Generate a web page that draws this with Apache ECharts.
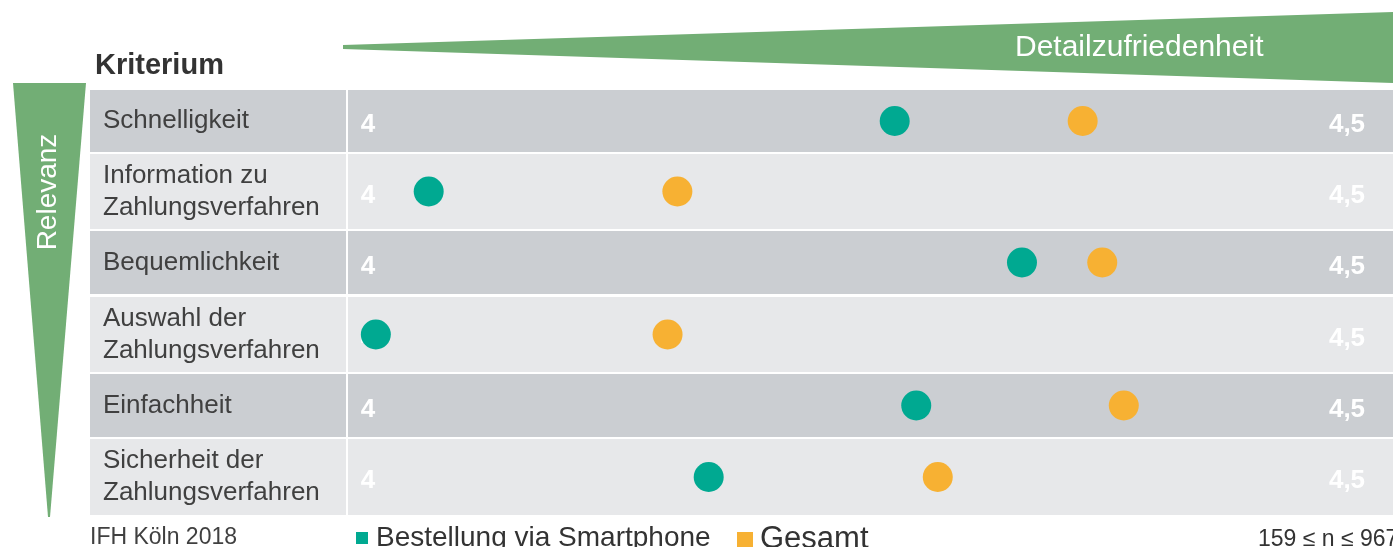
<!DOCTYPE html>
<html>
<head>
<meta charset="utf-8">
<script src="https://cdn.jsdelivr.net/npm/echarts@6/dist/echarts.min.js"></script>
<style>
  html, body { margin: 0; padding: 0; background: #fff; }
  #chart { width: 1393px; height: 547px; }
</style>
</head>
<body>
<div id="chart"></div>
<script>
// Kriterien (von oben nach unten nach Relevanz)
const criteria = [
  'Schnelligkeit',
  'Information zu\nZahlungsverfahren',
  'Bequemlichkeit',
  'Auswahl der\nZahlungsverfahren',
  'Einfachheit',
  'Sicherheit der\nZahlungsverfahren'
];
// Detailzufriedenheit je Gruppe
const smartphone = [4.269, 4.031, 4.334, 4.004, 4.280, 4.174];
const gesamt     = [4.365, 4.158, 4.375, 4.153, 4.386, 4.291];
const seriesNames = ['Bestellung via Smartphone', 'Gesamt'];
// Skalenbeschriftung
const scaleTicks = [4, 4.5];

// Layout der Zeilen
const rowTop = [90, 154, 231, 297, 374, 439];
const rowHeight = [62, 75, 63, 75, 63, 76];
const rowColors = ['#cbced2', '#e7e8ea'];
const font = '"Liberation Sans", Arial, sans-serif';

const chart = echarts.init(document.getElementById('chart'));

let grids = [], xAxes = [], yAxes = [], series = [], graphics = [];

// Dreiecke und Beschriftungen
graphics.push({
  type: 'polygon', z: 0,
  shape: { points: [[343, 45], [1393, 12], [1393, 83], [343, 49]] },
  style: { fill: '#72ae75' }
});
graphics.push({
  type: 'polygon', z: 0,
  shape: { points: [[13, 83], [86, 83], [50, 517], [48, 517]] },
  style: { fill: '#72ae75' }
});
graphics.push({
  type: 'text', x: 1015, y: 48, z: 5,
  style: { text: 'Detailzufriedenheit', fill: '#fff', font: '30px ' + font, verticalAlign: 'middle' }
});
graphics.push({
  type: 'text', x: 48, y: 192, rotation: Math.PI / 2, z: 5,
  style: { text: 'Relevanz', fill: '#fff', font: '28px ' + font, align: 'center', verticalAlign: 'middle' }
});
graphics.push({
  type: 'text', x: 95, y: 66, z: 5,
  style: { text: 'Kriterium', fill: '#333', font: 'bold 29px ' + font, verticalAlign: 'middle' }
});
graphics.push({
  type: 'text', x: 90, y: 538, z: 5,
  style: { text: 'IFH Köln 2018', fill: '#404040', font: '23px ' + font, verticalAlign: 'middle' }
});
graphics.push({
  type: 'text', x: 1258, y: 540, z: 5,
  style: { text: '159 ≤ n ≤ 967', fill: '#333', font: '23px ' + font, verticalAlign: 'middle' }
});

criteria.forEach((name, i) => {
  const h = rowHeight[i];
  // Zelle für die Kriterienspalte
  graphics.push({
    type: 'rect', z: 0,
    shape: { x: 90, y: rowTop[i], width: 256, height: h },
    style: { fill: rowColors[i % 2] }
  });
  grids.push({
    left: 348, right: 0, top: rowTop[i], height: h,
    show: true, backgroundColor: rowColors[i % 2], borderWidth: 0
  });
  xAxes.push({
    gridIndex: i, type: 'value', position: 'top',
    min: 4 - 20 / 1958, max: 4.5 + 46 / 1958,
    axisLine: { show: false }, axisTick: { show: false }, splitLine: { show: false },
    axisLabel: {
      customValues: scaleTicks,
      inside: true, margin: h / 2 + 4, verticalAlign: 'middle',
      color: '#fff', fontWeight: 'bold', fontSize: 26, fontFamily: font,
      formatter: v => String(v).replace('.', ',')
    }
  });
  yAxes.push({
    gridIndex: i, type: 'category', data: [name],
    axisLine: { show: false }, axisTick: { show: false },
    axisLabel: {
      align: 'left', margin: 245, fontSize: 26, lineHeight: 32, color: '#404040',
      fontFamily: font, padding: [6, 0, 0, 0]
    }
  });
  series.push({
    name: seriesNames[0], type: 'scatter', xAxisIndex: i, yAxisIndex: i,
    symbolSize: 30, itemStyle: { color: '#00a991', opacity: 1 },
    data: [[smartphone[i], name]]
  });
  series.push({
    name: seriesNames[1], type: 'scatter', xAxisIndex: i, yAxisIndex: i,
    symbolSize: 30, itemStyle: { color: '#f7b133', opacity: 1 },
    data: [[gesamt[i], name]]
  });
});

chart.setOption({
  animation: false,
  textStyle: { fontFamily: font },
  legend: [
    {
      data: [seriesNames[0]], left: 356, top: 524, padding: 0,
      icon: 'rect', itemWidth: 12, itemHeight: 12,
      textStyle: { fontSize: 28, color: '#333', fontFamily: font, padding: [0, 0, 0, 3] }
    },
    {
      data: [seriesNames[1]], left: 737, top: 524, padding: 0,
      icon: 'rect', itemWidth: 16, itemHeight: 15,
      textStyle: { fontSize: 31, color: '#333', fontFamily: font, padding: [0, 0, 0, 2] }
    }
  ],
  grid: grids,
  xAxis: xAxes,
  yAxis: yAxes,
  series: series,
  graphic: graphics
});
</script>
</body>
</html>
